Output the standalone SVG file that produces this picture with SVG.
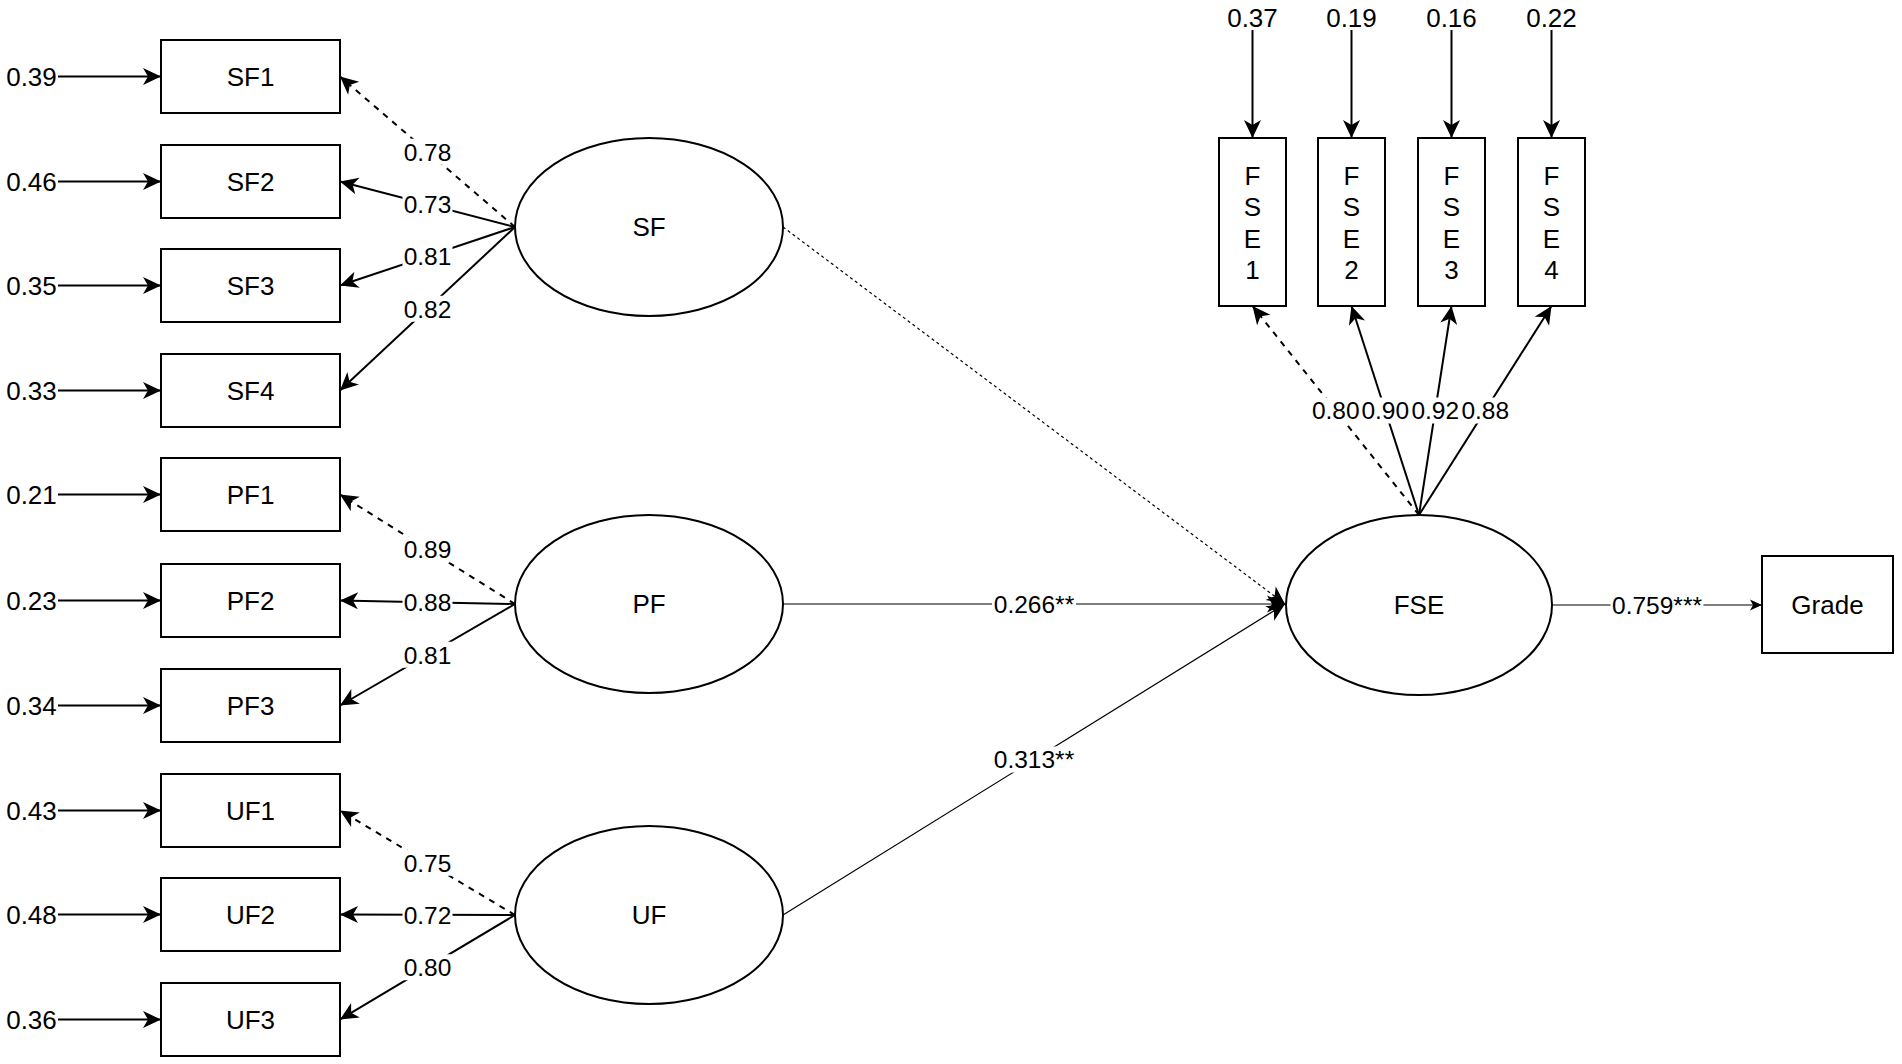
<svg xmlns="http://www.w3.org/2000/svg" width="1902" height="1064" viewBox="0 0 1902 1064">
<defs>
<style>
text{font-family:"Liberation Sans",Arial,Helvetica,sans-serif;fill:#000}
.nt{font-size:26px;text-anchor:middle}
.lt{font-size:24.5px;text-anchor:middle}
.box{fill:#fff;stroke:#000;stroke-width:2}
.ell{fill:#fff;stroke:#000;stroke-width:2}
.bold{stroke:#000;stroke-width:2;fill:none}
.dash{stroke-dasharray:6 6}
.thin{stroke:#000;stroke-width:1.2;fill:none}
.dot{stroke-dasharray:3 3}
.bg{fill:#fff}
</style>
<marker id="ah" markerUnits="userSpaceOnUse" markerWidth="18" markerHeight="17" refX="18" refY="8.5" orient="auto" overflow="visible">
<path d="M0,0 L18,8.5 L0,17 L5,8.5 Z" fill="#000"/>
</marker>
<marker id="as" markerUnits="userSpaceOnUse" markerWidth="12" markerHeight="11" refX="12" refY="5.5" orient="auto" overflow="visible">
<path d="M0,0 L12,5.5 L0,11 L3,5.5 Z" fill="#000"/>
</marker>
</defs>
<rect width="1902" height="1064" fill="#fff"/>

<g id="connectors">
<!-- error arrows left -->
<g class="bold" marker-end="url(#ah)">
<line x1="58" y1="76.5" x2="161" y2="76.5"/>
<line x1="58" y1="181.5" x2="161" y2="181.5"/>
<line x1="58" y1="285.5" x2="161" y2="285.5"/>
<line x1="58" y1="390.5" x2="161" y2="390.5"/>
<line x1="58" y1="494.5" x2="161" y2="494.5"/>
<line x1="58" y1="600.5" x2="161" y2="600.5"/>
<line x1="58" y1="705.5" x2="161" y2="705.5"/>
<line x1="58" y1="810.5" x2="161" y2="810.5"/>
<line x1="58" y1="914.5" x2="161" y2="914.5"/>
<line x1="58" y1="1019.5" x2="161" y2="1019.5"/>
<!-- FSE error arrows -->
<line x1="1252.5" y1="30" x2="1252.5" y2="138"/>
<line x1="1351.5" y1="30" x2="1351.5" y2="138"/>
<line x1="1451.5" y1="30" x2="1451.5" y2="138"/>
<line x1="1551.5" y1="30" x2="1551.5" y2="138"/>
<!-- SF loadings -->
<line class="dash" x1="515" y1="227" x2="340" y2="76.5"/>
<line x1="515" y1="227" x2="340" y2="181.5"/>
<line x1="515" y1="227" x2="340" y2="285.5"/>
<line x1="515" y1="227" x2="340" y2="390.5"/>
<!-- PF loadings -->
<line class="dash" x1="515" y1="604" x2="340" y2="494.5"/>
<line x1="515" y1="604" x2="340" y2="600.5"/>
<line x1="515" y1="604" x2="340" y2="705.5"/>
<!-- UF loadings -->
<line class="dash" x1="515" y1="915" x2="340" y2="810.5"/>
<line x1="515" y1="915" x2="340" y2="914.5"/>
<line x1="515" y1="915" x2="340" y2="1019.5"/>
<!-- FSE loadings -->
<line class="dash" x1="1419" y1="515" x2="1252.5" y2="306"/>
<line x1="1419" y1="515" x2="1351.5" y2="306"/>
<line x1="1419" y1="515" x2="1451.5" y2="306"/>
<line x1="1419" y1="515" x2="1551.5" y2="306"/>
</g>
<!-- structural paths -->
<g class="thin" marker-end="url(#ah)">
<line class="dot" x1="783" y1="227" x2="1285" y2="604"/>
<line x1="783" y1="604" x2="1285" y2="604"/>
<line x1="783" y1="915" x2="1285" y2="604"/>
</g>
<line class="thin" x1="1552" y1="605" x2="1762" y2="605" marker-end="url(#as)"/>

<!-- labels -->
<g id="labels">
<rect class="bg" x="402.5" y="138.75" width="50" height="26"/><text class="lt" x="427.5" y="160.5">0.78</text>
<rect class="bg" x="402.5" y="191.25" width="50" height="26"/><text class="lt" x="427.5" y="213">0.73</text>
<rect class="bg" x="402.5" y="243.25" width="50" height="26"/><text class="lt" x="427.5" y="265">0.81</text>
<rect class="bg" x="402.5" y="295.75" width="50" height="26"/><text class="lt" x="427.5" y="317.5">0.82</text>
<rect class="bg" x="402.5" y="536.25" width="50" height="26"/><text class="lt" x="427.5" y="558">0.89</text>
<rect class="bg" x="402.5" y="589.25" width="50" height="26"/><text class="lt" x="427.5" y="611">0.88</text>
<rect class="bg" x="402.5" y="641.75" width="50" height="26"/><text class="lt" x="427.5" y="663.5">0.81</text>
<rect class="bg" x="402.5" y="849.75" width="50" height="26"/><text class="lt" x="427.5" y="871.5">0.75</text>
<rect class="bg" x="402.5" y="901.75" width="50" height="26"/><text class="lt" x="427.5" y="923.5">0.72</text>
<rect class="bg" x="402.5" y="954.25" width="50" height="26"/><text class="lt" x="427.5" y="976">0.80</text>
<rect class="bg" x="1310.75" y="397.5" width="50" height="26"/><text class="lt" x="1335.75" y="419.3">0.80</text>
<rect class="bg" x="1360.25" y="397.5" width="50" height="26"/><text class="lt" x="1385.25" y="419.3">0.90</text>
<rect class="bg" x="1410.25" y="397.5" width="50" height="26"/><text class="lt" x="1435.25" y="419.3">0.92</text>
<rect class="bg" x="1460.25" y="397.5" width="50" height="26"/><text class="lt" x="1485.25" y="419.3">0.88</text>
<rect class="bg" x="992" y="591" width="84" height="26"/><text class="lt" x="1034" y="612.8">0.266**</text>
<rect class="bg" x="992" y="746.5" width="84" height="26"/><text class="lt" x="1034" y="768.3">0.313**</text>
<rect class="bg" x="1610.5" y="592" width="93" height="26"/><text class="lt" x="1657" y="613.8">0.759***</text>
</g>
</g>

<!-- error terms -->
<g id="errors">
<text class="nt" x="31.5" y="85.8">0.39</text>
<text class="nt" x="31.5" y="190.8">0.46</text>
<text class="nt" x="31.5" y="294.8">0.35</text>
<text class="nt" x="31.5" y="399.8">0.33</text>
<text class="nt" x="31.5" y="503.8">0.21</text>
<text class="nt" x="31.5" y="609.8">0.23</text>
<text class="nt" x="31.5" y="714.8">0.34</text>
<text class="nt" x="31.5" y="819.8">0.43</text>
<text class="nt" x="31.5" y="923.8">0.48</text>
<text class="nt" x="31.5" y="1028.8">0.36</text>
<text class="nt" x="1252.5" y="27.3">0.37</text>
<text class="nt" x="1351.5" y="27.3">0.19</text>
<text class="nt" x="1451.5" y="27.3">0.16</text>
<text class="nt" x="1551.5" y="27.3">0.22</text>
</g>

<g id="SF1"><rect class="box" x="161" y="40" width="179" height="73"/><text class="nt" x="250.5" y="85.8">SF1</text></g>
<g id="SF2"><rect class="box" x="161" y="145" width="179" height="73"/><text class="nt" x="250.5" y="190.8">SF2</text></g>
<g id="SF3"><rect class="box" x="161" y="249" width="179" height="73"/><text class="nt" x="250.5" y="294.8">SF3</text></g>
<g id="SF4"><rect class="box" x="161" y="354" width="179" height="73"/><text class="nt" x="250.5" y="399.8">SF4</text></g>
<g id="PF1"><rect class="box" x="161" y="458" width="179" height="73"/><text class="nt" x="250.5" y="503.8">PF1</text></g>
<g id="PF2"><rect class="box" x="161" y="564" width="179" height="73"/><text class="nt" x="250.5" y="609.8">PF2</text></g>
<g id="PF3"><rect class="box" x="161" y="669" width="179" height="73"/><text class="nt" x="250.5" y="714.8">PF3</text></g>
<g id="UF1"><rect class="box" x="161" y="774" width="179" height="73"/><text class="nt" x="250.5" y="819.8">UF1</text></g>
<g id="UF2"><rect class="box" x="161" y="878" width="179" height="73"/><text class="nt" x="250.5" y="923.8">UF2</text></g>
<g id="UF3"><rect class="box" x="161" y="983" width="179" height="73"/><text class="nt" x="250.5" y="1028.8">UF3</text></g>

<g id="SF"><ellipse class="ell" cx="649" cy="227" rx="134" ry="89"/><text class="nt" x="649" y="236.3">SF</text></g>
<g id="PF"><ellipse class="ell" cx="649" cy="604" rx="134" ry="89"/><text class="nt" x="649" y="613.3">PF</text></g>
<g id="UF"><ellipse class="ell" cx="649" cy="915" rx="134" ry="89"/><text class="nt" x="649" y="924.3">UF</text></g>
<g id="FSE"><ellipse class="ell" cx="1419" cy="605" rx="133" ry="90"/><text class="nt" x="1419" y="614.3">FSE</text></g>

<g id="FSE1"><rect class="box" x="1219" y="138" width="67" height="168"/>
<text class="nt" x="1252.5" y="184.8">F</text><text class="nt" x="1252.5" y="216.3">S</text><text class="nt" x="1252.5" y="247.8">E</text><text class="nt" x="1252.5" y="279.3">1</text></g>
<g id="FSE2"><rect class="box" x="1318" y="138" width="67" height="168"/>
<text class="nt" x="1351.5" y="184.8">F</text><text class="nt" x="1351.5" y="216.3">S</text><text class="nt" x="1351.5" y="247.8">E</text><text class="nt" x="1351.5" y="279.3">2</text></g>
<g id="FSE3"><rect class="box" x="1418" y="138" width="67" height="168"/>
<text class="nt" x="1451.5" y="184.8">F</text><text class="nt" x="1451.5" y="216.3">S</text><text class="nt" x="1451.5" y="247.8">E</text><text class="nt" x="1451.5" y="279.3">3</text></g>
<g id="FSE4"><rect class="box" x="1518" y="138" width="67" height="168"/>
<text class="nt" x="1551.5" y="184.8">F</text><text class="nt" x="1551.5" y="216.3">S</text><text class="nt" x="1551.5" y="247.8">E</text><text class="nt" x="1551.5" y="279.3">4</text></g>

<g id="Grade"><rect class="box" x="1762" y="556" width="131" height="97"/><text class="nt" x="1827.5" y="614.3">Grade</text></g>
</svg>
